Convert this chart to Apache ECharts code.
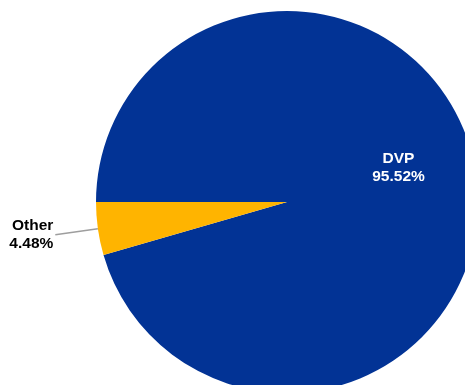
<!DOCTYPE html>
<html>
<head>
<meta charset="utf-8">
<script src="https://cdn.jsdelivr.net/npm/echarts@6/dist/echarts.min.js"></script>
<style>
  html, body { margin: 0; padding: 0; background: #ffffff; }
  #chart { width: 465px; height: 385px; }
</style>
</head>
<body>
<div id="chart"></div>
<script>
// Share of total, in percent
const categories = ['DVP', 'Other'];
const shares = [95.52, 4.48];
const colors = ['#023395', '#FFB400'];

const chart = echarts.init(document.getElementById('chart'), null, { renderer: 'canvas' });

const data = categories.map((name, i) => ({
  name: name,
  value: shares[i],
  itemStyle: { color: colors[i] },
  label: i === 0
    ? { position: 'inside', color: '#ffffff' }
    : { position: 'outside', color: '#000000' },
  labelLine: i === 0 ? { show: false } : { show: true }
}));

chart.setOption({
  animation: false,
  series: [{
    type: 'pie',
    center: [287, 202],
    radius: 191,
    startAngle: 180,
    clockwise: true,
    avoidLabelOverlap: false,
    data: data,
    label: {
      show: true,
      formatter: p => p.name + '\n' + p.value.toFixed(2) + '%',
      fontFamily: 'Liberation Sans, Arial, sans-serif',
      fontSize: 15.5,
      fontWeight: 'bold',
      lineHeight: 18,
      distanceToLabelLine: 2
    },
    labelLine: {
      length: 43,
      length2: 0,
      lineStyle: { color: '#9e9e9e', width: 1.5 }
    },
    labelLayout: function (params) {
      if (params.dataIndex === 0) {
        return { dx: 14, dy: -20 };
      }
      return {};
    },
    itemStyle: { borderWidth: 0 },
    emphasis: { disabled: true }
  }]
});
</script>
</body>
</html>
